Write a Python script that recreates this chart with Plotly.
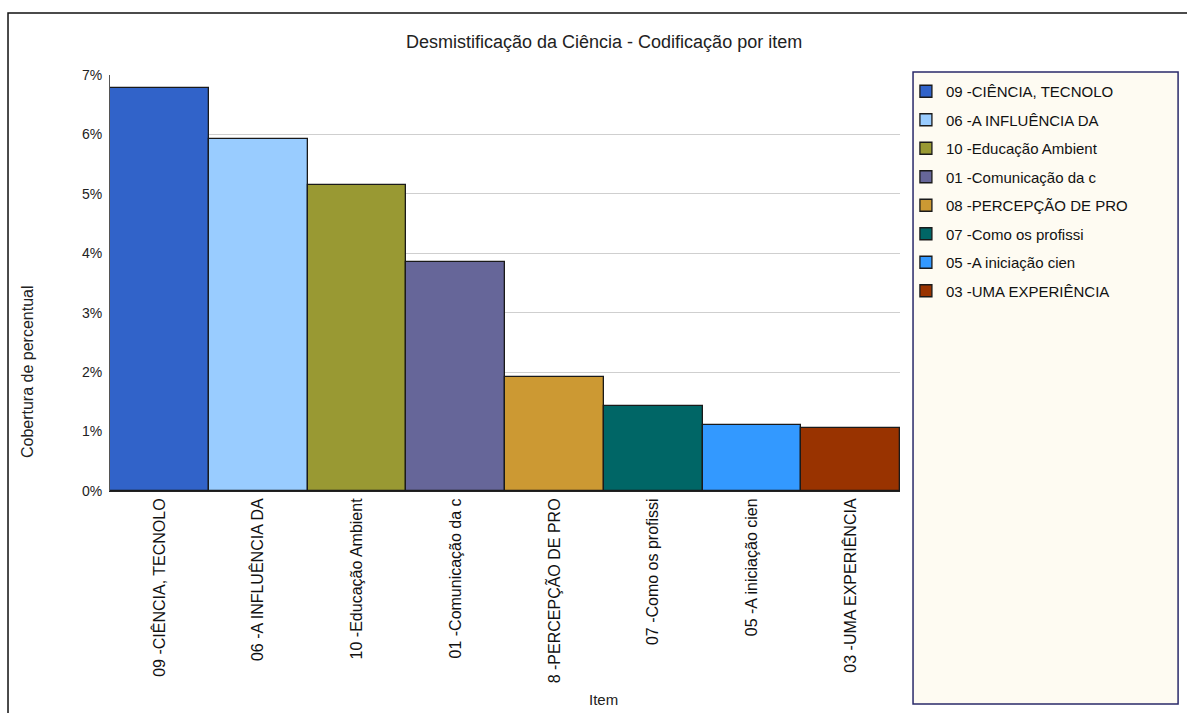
import plotly.graph_objects as go

# Coding coverage per item (percent)
items = [
    "09 -CIÊNCIA, TECNOLO",
    "06 -A INFLUÊNCIA DA",
    "10 -Educação Ambient",
    "01 -Comunicação da c",
    "8 -PERCEPÇÃO DE PRO",
    "07 -Como os profissi",
    "05 -A iniciação cien",
    "03 -UMA EXPERIÊNCIA",
]
legend_names = [
    "09 -CIÊNCIA, TECNOLO",
    "06 -A INFLUÊNCIA DA",
    "10 -Educação Ambient",
    "01 -Comunicação da c",
    "08 -PERCEPÇÃO DE PRO",
    "07 -Como os profissi",
    "05 -A iniciação cien",
    "03 -UMA EXPERIÊNCIA",
]
coverage = [6.78, 5.92, 5.15, 3.86, 1.91, 1.43, 1.11, 1.06]
colors = ["#3163C9", "#99CCFF", "#999933", "#666699",
          "#CC9933", "#006666", "#3399FF", "#993300"]

FONT = "Liberation Sans, Arial, sans-serif"

fig = go.Figure()
for name, label, val, col in zip(legend_names, items, coverage, colors):
    fig.add_trace(go.Bar(
        x=[label], y=[val], name=name, legendgroup=name,
        marker=dict(color=col, line=dict(color="#1a1a1a", width=1.3)),
        width=1.0,
    ))

fig.update_layout(
    width=1187, height=713,
    margin=dict(l=110, r=287, t=75, b=222),
    paper_bgcolor="white", plot_bgcolor="white",
    font=dict(family=FONT, color="#222"),
    bargap=0, barmode="overlay",
    showlegend=True,
    legend=dict(
        x=1.0075, xanchor="left", y=1.0, yanchor="top",
        bgcolor="rgba(0,0,0,0)", borderwidth=0,
        font=dict(family=FONT, size=15, color="#111"),
        traceorder="grouped", tracegroupgap=6,
        itemclick=False,
    ),
    xaxis=dict(
        type="category", categoryorder="array", categoryarray=items,
        range=[-0.5, 7.5], tickangle=-90,
        tickfont=dict(family=FONT, size=16, color="#111"),
        showline=True, linecolor="#222", linewidth=1,
        showgrid=False, ticks="",
    ),
    yaxis=dict(
        range=[0, 7], dtick=1, ticksuffix="%",
        tickfont=dict(family=FONT, size=14, color="#222"),
        ticklabelstandoff=4,
        showline=True, linecolor="#555", linewidth=1,
        showgrid=True, gridcolor="#cfcfcf", gridwidth=1,
        zeroline=False, ticks="",
    ),
    shapes=[
        # outer chart frame
        dict(type="rect", xref="paper", yref="paper",
             x0=-0.1291, x1=1.40, y0=-0.60, y1=1.149,
             line=dict(color="#111", width=1.5), fillcolor="rgba(0,0,0,0)",
             layer="below"),
        # legend panel
        dict(type="rect", xref="paper", yref="paper",
             x0=1.0165, x1=1.352, y0=-0.512, y1=1.007,
             line=dict(color="#2a2a6a", width=1.5), fillcolor="#FEFBF2",
             layer="below"),
    ],
    annotations=[
        dict(text="Desmistificação da Ciência - Codificação por item",
             xref="paper", yref="paper", x=0.6253, y=1.079,
             xanchor="center", yanchor="middle", showarrow=False,
             font=dict(family=FONT, size=18, color="#222")),
        dict(text="Cobertura de percentual",
             xref="paper", yref="paper", x=-0.105, y=0.286, textangle=-90,
             xanchor="center", yanchor="middle", showarrow=False,
             font=dict(family=FONT, size=16, color="#222")),
        dict(text="Item",
             xref="paper", yref="paper", x=0.6253, y=-0.5024,
             xanchor="center", yanchor="middle", showarrow=False,
             font=dict(family=FONT, size=15, color="#222")),
    ],
)

fig.write_html("out.html")
